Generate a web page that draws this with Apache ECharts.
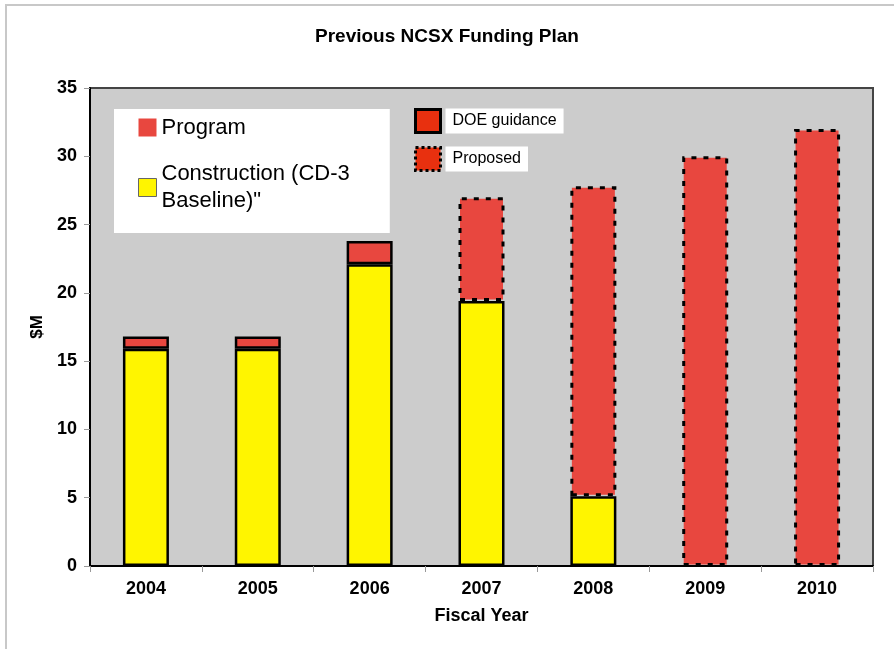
<!DOCTYPE html>
<html>
<head>
<meta charset="utf-8">
<script src="https://cdn.jsdelivr.net/npm/echarts@6/dist/echarts.min.js"></script>
<style>
  html, body { margin: 0; padding: 0; background: #fff; }
  #chart { width: 894px; height: 649px; }
</style>
</head>
<body>
<div id="chart"></div>
<script>
const years = ['2004', '2005', '2006', '2007', '2008', '2009', '2010'];
const construction = [15.9, 15.9, 22.1, 19.4, 5.1, null, null];
const programGuidance = [0.9, 0.9, 1.7, null, null, null, null];
const programProposed = [null, null, null, 7.6, 22.7, 30, 32];
const yTicks = [0, 5, 10, 15, 20, 25, 30, 35];

const RED = '#E8473F';
const YELLOW = '#FFF500';
const CONSTRUCTION = 'Construction (CD-3\nBaseline)"';

const chart = echarts.init(document.getElementById('chart'));

chart.setOption({
  backgroundColor: '#fff',
  animation: false,
  title: {
    text: 'Previous NCSX Funding Plan',
    left: 'center',
    top: 27,
    padding: 0,
    textStyle: { fontFamily: 'Liberation Sans', fontSize: 19, fontWeight: 'bold', color: '#000' },
  },
  grid: {
    left: 90, right: 21, top: 88, bottom: 83,
    show: true, backgroundColor: '#CCCCCC', borderColor: '#444', borderWidth: 2,
  },
  legend: [
    {
      data: [
        { name: 'Program', icon: 'rect', itemStyle: { color: RED, borderWidth: 0 } },
        { name: CONSTRUCTION, icon: 'rect', itemStyle: { color: YELLOW, borderColor: '#666', borderWidth: 1 },
          textStyle: { padding: [27, 0, 0, 0] } },
      ],
      orient: 'vertical',
      left: 114, top: 109,
      backgroundColor: '#fff',
      padding: [5, 40, 5, 24],
      itemGap: 6,
      itemWidth: 18, itemHeight: 18,
      selectedMode: false,
      textStyle: { fontFamily: 'Liberation Sans', fontSize: 22, lineHeight: 27, color: '#000' },
    },
    {
      data: [
        { name: 'DOE guidance', icon: 'rect', itemStyle: { color: '#E8300F', borderColor: '#000', borderWidth: 3, borderType: 'solid' } },
        { name: 'Proposed', icon: 'rect', itemStyle: { color: '#E8300F', borderColor: '#000', borderWidth: 3, borderType: [3, 3] } },
      ],
      orient: 'vertical',
      left: 414, top: 108,
      padding: 0,
      itemGap: 12,
      itemWidth: 25, itemHeight: 23,
      selectedMode: false,
      textStyle: {
        fontFamily: 'Liberation Sans', fontSize: 16, lineHeight: 16, color: '#000',
        backgroundColor: '#fff', padding: [5, 7, 4, 7],
      },
    },
  ],
  xAxis: {
    type: 'category',
    data: years,
    name: 'Fiscal Year',
    nameLocation: 'middle',
    nameGap: 41,
    nameTextStyle: { fontFamily: 'Liberation Sans', fontSize: 18, fontWeight: 'bold', color: '#000' },
    axisLine: { lineStyle: { color: '#000', width: 2 } },
    axisTick: { show: true, length: 6, lineStyle: { color: '#999' } },
    axisLabel: { fontFamily: 'Liberation Sans', fontSize: 18, fontWeight: 'bold', color: '#000', margin: 14 },
  },
  yAxis: {
    type: 'value',
    min: 0, max: 35, interval: 5,
    name: '$M',
    nameLocation: 'middle',
    nameRotate: 90,
    nameGap: 40,
    nameTextStyle: { fontFamily: 'Liberation Sans', fontSize: 17, fontWeight: 'bold', color: '#000' },
    axisLine: { show: true, lineStyle: { color: '#000', width: 2 } },
    axisTick: { show: true, length: 6, lineStyle: { color: '#999' } },
    splitLine: { show: false },
    axisLabel: {
      fontFamily: 'Liberation Sans', fontSize: 18, fontWeight: 'bold', color: '#000', margin: 13,
      formatter: v => yTicks.includes(v) ? String(v) : '',
    },
  },
  series: [
    {
      name: CONSTRUCTION, type: 'bar', stack: 'total', barWidth: 46,
      data: construction,
      itemStyle: { color: YELLOW, borderColor: '#000', borderWidth: 2.5 },
    },
    {
      name: 'Program', type: 'bar', stack: 'total',
      data: programGuidance,
      itemStyle: { color: RED, borderColor: '#000', borderWidth: 2.5 },
    },
    {
      name: 'Proposed', type: 'bar', stack: 'total',
      data: programProposed,
      itemStyle: { color: RED, borderColor: '#000', borderWidth: 3, borderType: [5, 7] },
    },
    {
      name: 'DOE guidance', type: 'bar', stack: 'total',
      data: [],
      itemStyle: { color: RED, borderColor: '#000', borderWidth: 2.5 },
    },
  ],
  graphic: [
    {
      type: 'polyline',
      shape: { points: [[6, 649], [6, 5], [894, 5]] },
      style: { stroke: '#C8C8C8', lineWidth: 2, fill: null },
      silent: true,
    },
  ],
});
</script>
</body>
</html>
